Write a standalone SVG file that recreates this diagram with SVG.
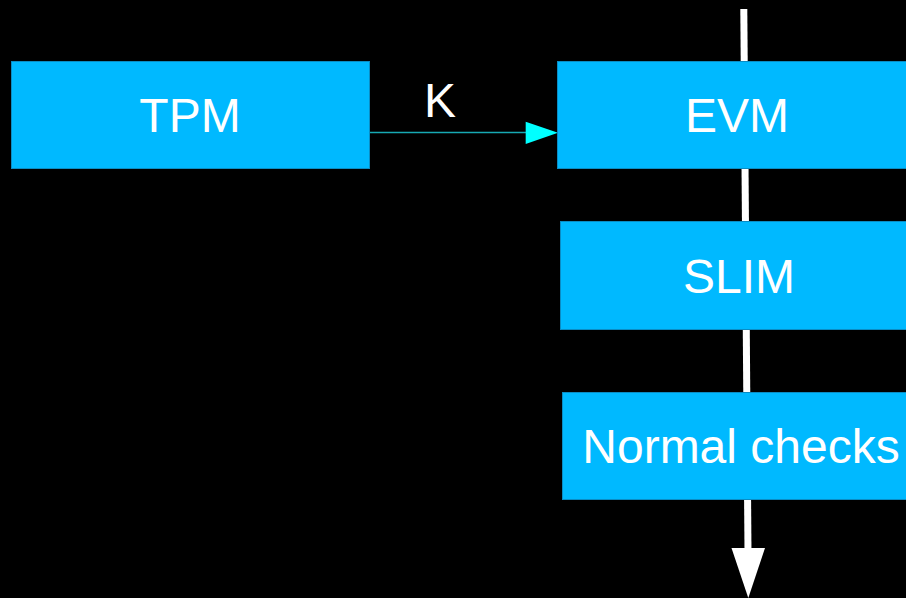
<svg xmlns="http://www.w3.org/2000/svg" width="906" height="598" viewBox="0 0 906 598">
  <style>
    .box { fill: #00b9ff; stroke: #0a8cc4; stroke-width: 1; }
    .label { font-family: "Liberation Sans", Arial, sans-serif; font-size: 48px; fill: #ffffff; text-anchor: middle; }
  </style>
  <rect x="0" y="0" width="906" height="598" fill="#000000"/>

  <!-- connectors -->
  <g id="connectors">
    <!-- main vertical flow -->
    <line x1="743.8" y1="9" x2="748" y2="552" stroke="#ffffff" stroke-width="7"/>
    <polygon points="731.5,548 765,548 748.3,598" fill="#ffffff"/>
    <!-- TPM to EVM -->
    <line x1="370" y1="132.5" x2="528" y2="132.5" stroke="#17a9b3" stroke-width="1.6"/>
    <polygon points="525.7,121.7 558,132.7 525.7,144" fill="#00ffff"/>
    <text class="label" x="440" y="117">K</text>
  </g>

  <g id="tpm">
    <rect class="box" x="11.5" y="61.5" width="358" height="107"/>
    <text class="label" x="190" y="132">TPM</text>
  </g>

  <g id="evm">
    <rect class="box" x="557.5" y="61.5" width="359" height="107"/>
    <text class="label" x="737" y="132">EVM</text>
  </g>

  <g id="slim">
    <rect class="box" x="560.5" y="221.5" width="359" height="108"/>
    <text class="label" x="739" y="293">SLIM</text>
  </g>

  <g id="normal-checks">
    <rect class="box" x="562.5" y="392.5" width="359" height="107"/>
    <text class="label" x="741" y="463">Normal checks</text>
  </g>
</svg>
